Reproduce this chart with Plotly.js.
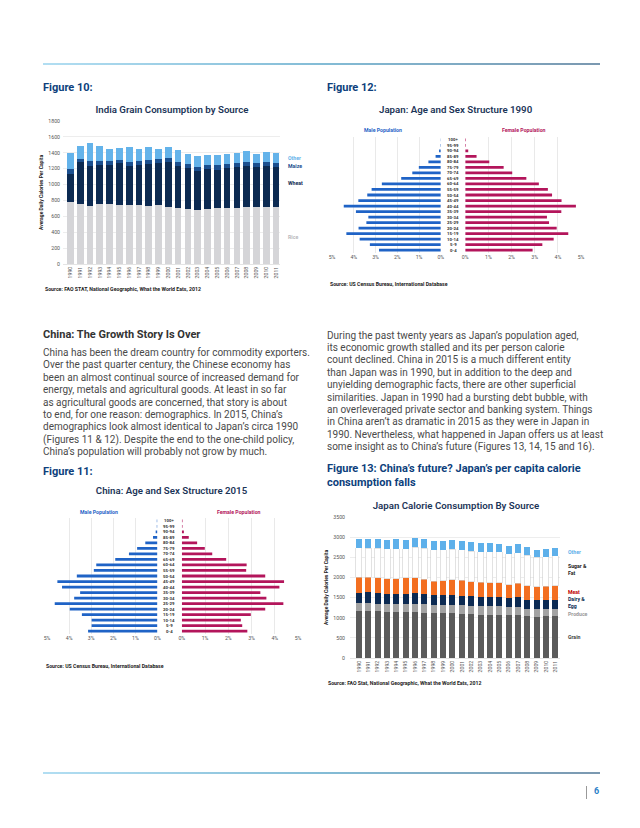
<!DOCTYPE html>
<html><head><meta charset="utf-8">
<script src="https://cdn.plot.ly/plotly-3.0.1.min.js"></script>
<style>
body{margin:0;background:#fff;width:640px;height:828px;position:relative;overflow:hidden;font-family:Roboto,"Noto Sans",sans-serif;}
.abs{position:absolute;}
.fig{font-weight:700;font-size:11px;line-height:14px;color:#0d3f7c;white-space:nowrap;}
.para{font-size:10px;line-height:12.4px;color:#4a4a4a;white-space:nowrap;}
.head{font-weight:700;font-size:11px;line-height:13px;color:#333;white-space:nowrap;}
.src{font-weight:700;font-size:5.2px;color:#222;white-space:nowrap;}
.rule{height:2px;background:linear-gradient(to right,#b2def2,#83bcd6 50%,#7b98b0);}
</style></head><body>
<div class="abs rule" style="left:43px;top:63px;width:557px;"></div>
<div class="abs rule" style="left:43px;top:772px;width:557px;"></div>
<div class="abs" style="left:586px;top:786px;width:1px;height:13px;background:#999;"></div>
<div class="abs" style="left:594px;top:786px;font-size:9px;font-weight:700;color:#2a7fc8;">6</div>

<div class="abs fig" style="left:43px;top:81px;">Figure 10:</div>
<div class="abs fig" style="left:327px;top:81px;">Figure 12:</div>
<div class="abs fig" style="left:43px;top:465px;">Figure 11:</div>
<div class="abs fig" style="left:327px;top:462px;line-height:14px;">Figure 13: China’s future? Japan’s per capita calorie<br>consumption falls</div>

<div class="abs head" style="left:43px;top:328px;">China: The Growth Story Is Over</div>
<div class="abs para" style="left:43px;top:347px;">China has been the dream country for commodity exporters.<br>Over the past quarter century, the Chinese economy has<br>been an almost continual source of increased demand for<br>energy, metals and agricultural goods. At least in so far<br>as agricultural goods are concerned, that story is about<br>to end, for one reason: demographics. In 2015, China’s<br>demographics look almost identical to Japan’s circa 1990<br>(Figures 11 &amp; 12). Despite the end to the one-child policy,<br>China’s population will probably not grow by much.</div>
<div class="abs para" style="left:327px;top:329.5px;">During the past twenty years as Japan’s population aged,<br>its economic growth stalled and its per person calorie<br>count declined. China in 2015 is a much different entity<br>than Japan was in 1990, but in addition to the deep and<br>unyielding demographic facts, there are other superficial<br>similarities. Japan in 1990 had a bursting debt bubble, with<br>an overleveraged private sector and banking system. Things<br>in China aren’t as dramatic in 2015 as they were in Japan in<br>1990. Nevertheless, what happened in Japan offers us at least<br>some insight as to China’s future (Figures 13, 14, 15 and 16).</div>

<div class="abs src" style="left:45px;top:286px;">Source: FAO STAT, National Geographic, What the World Eats, 2012</div>
<div class="abs src" style="left:330px;top:281px;">Source: US Census Bureau, International Database</div>
<div class="abs src" style="left:46px;top:663px;">Source: US Census Bureau, International Database</div>
<div class="abs src" style="left:328px;top:680px;">Source: FAO Stat, National Geographic, What the World Eats, 2012</div>

<div id="c1" class="abs" style="left:30px;top:98px;width:290px;height:200px;"></div>
<div id="c2" class="abs" style="left:320px;top:95px;width:300px;height:200px;"></div>
<div id="c3" class="abs" style="left:30px;top:475px;width:290px;height:200px;"></div>
<div id="c4" class="abs" style="left:320px;top:495px;width:300px;height:200px;"></div>

<script>
// ---------- data ----------
const years = ['1990','1991','1992','1993','1994','1995','1996','1997','1998','1999','2000','2001','2002','2003','2004','2005','2006','2007','2008','2009','2010','2011'];
// India grain consumption (kcal/capita/day), stacked segments
const indiaRice  = [776,759,725,755,755,746,738,738,734,738,721,700,688,679,696,709,700,704,717,713,717,713];
const indiaWheat = [356,520,512,495,495,524,499,512,528,532,558,529,520,495,499,478,504,512,520,507,520,507];
const indiaMaize = [63,46,63,50,41,34,46,50,46,47,54,54,50,50,46,54,50,59,50,46,50,50];
const indiaOther = [200,163,222,180,160,155,189,147,160,134,139,147,126,139,126,126,126,125,139,114,126,125];
// Population pyramids (% of total), ordered from 0-4 upward
const ageGroups = ['0-4','5-9','10-14','15-19','20-24','25-29','30-34','35-39','40-44','45-49','50-54','55-59','60-64','65-69','70-74','75-79','80-84','85-89','90-94','95-99','100+'];
const japanMale1990   = [2.84,3.26,3.73,4.34,3.78,3.42,3.33,3.90,4.46,3.79,3.38,3.18,2.71,1.82,1.31,1.01,0.57,0.24,0.08,0.02,0.01];
const japanFemale1990 = [2.91,3.33,3.82,4.45,3.95,3.62,3.53,4.15,4.78,4.16,3.75,3.57,3.18,2.64,2.03,1.66,1.04,0.49,0.13,0.03,0.03];
const chinaMale2015   = [3.14,2.98,2.98,3.42,3.97,4.65,3.77,3.50,4.32,4.53,3.65,2.88,2.77,1.91,1.29,0.92,0.55,0.20,0.08,0.03,0.03];
const chinaFemale2015 = [2.82,2.60,2.54,2.97,3.59,4.37,3.64,3.38,4.20,4.40,3.59,2.77,2.79,1.91,1.31,0.99,0.66,0.30,0.09,0.03,0.03];
const pctTicks = [0,1,2,3,4,5];
const pctLabels = ['0%','1%','2%','3%','4%','5%'];
// Japan calorie consumption by source, stacked segments
const jpGrain   = [1159,1159,1159,1142,1134,1134,1151,1126,1109,1109,1118,1101,1084,1076,1076,1076,1060,1076,1035,1026,1043,1043];
const jpProduce = [207,207,190,199,207,207,198,207,199,199,198,207,207,207,207,207,207,199,182,183,174,174];
const jpDairy   = [248,265,265,257,257,257,257,256,257,257,249,240,240,240,232,232,223,240,232,223,232,232];
const jpMeat    = [389,372,373,372,372,389,381,365,339,356,372,381,365,356,348,356,331,339,347,331,331,347];
const jpSugar   = [729,721,737,737,745,720,761,770,786,769,762,753,753,762,769,770,762,754,754,737,737,737];
const jpOther   = [232,231,240,232,232,232,232,231,224,224,223,232,224,223,224,198,207,215,207,190,190,191];

const FONT = 'Roboto, "Noto Sans", sans-serif';
const cfg = {staticPlot:true, displayModeBar:false};
const tickF = {family:FONT, size:5.2, color:'#555'};
const titleF = {family:FONT, size:9.7, color:'#1c3558', weight:600};

// ---------- Chart 1: India ----------
(function(){
  const mk = (name, y, color) => ({type:'bar', name, x:years, y, marker:{color}, hoverinfo:'none'});
  const data = [
    mk('Rice', indiaRice, '#d5d5d8'),
    mk('Wheat', indiaWheat, '#0c2a52'),
    mk('Maize', indiaMaize, '#1b4f8f'),
    mk('Other', indiaOther, '#64b3ea')
  ];
  const lab = (t, y, c) => ({xref:'paper', yref:'y', x:1.026, y, text:t, showarrow:false, xanchor:'left', font:{family:FONT, size:5.2, color:c, weight:700}});
  Plotly.newPlot('c1', data, {
    width:290, height:200, margin:{l:33, r:40, t:23.3, b:33.7},
    paper_bgcolor:'rgba(0,0,0,0)', plot_bgcolor:'rgba(0,0,0,0)',
    barmode:'stack', bargap:0.32, showlegend:false,
    title:{text:'India Grain Consumption by Source', font:titleF, x:(172-30)/290, xref:'container', xanchor:'center', yref:'container', y:0.94, yanchor:'middle'},
    xaxis:{type:'category', range:[-0.76,21.4], tickangle:-90, tickfont:tickF, showgrid:false, showline:true, linecolor:'#d9d9d9', linewidth:0.7, ticks:''},
    yaxis:{range:[0,1800], dtick:200, tickfont:tickF, gridcolor:'#e6e6e6', gridwidth:0.7, zeroline:false, ticklabelstandoff:2,
      title:{text:'Average Daily Calories Per Capita', font:{family:FONT, size:5, color:'#222', weight:700}, standoff:4}},
    annotations:[lab('Other',1333,'#64b3ea'), lab('Maize',1237,'#1b4f8f'), lab('Wheat',1015,'#0c2a52'), lab('Rice',344,'#b8b8bc')]
  }, cfg);
})();

// ---------- Pyramids ----------
function pyramid(id, w, h, margin, leftDom, rightDom, midX, maleVals, femaleVals, title, titleX, titleY, maleLabX, femLabX, labY){
  const data = [
    {type:'bar', orientation:'h', x:maleVals, y:ageGroups, xaxis:'x', yaxis:'y', marker:{color:'#1f63c6'}, hoverinfo:'none'},
    {type:'bar', orientation:'h', x:femaleVals, y:ageGroups, xaxis:'x2', yaxis:'y', marker:{color:'#b3155b'}, hoverinfo:'none'}
  ];
  const ann = ageGroups.map(a => ({xref:'paper', yref:'y', x:midX, y:a, text:a, showarrow:false, xanchor:'center', font:{family:FONT, size:4.3, color:'#333', weight:700}}));
  ann.push({xref:'paper', yref:'paper', x:maleLabX, y:labY, text:'Male Population', showarrow:false, xanchor:'center', yanchor:'middle', font:{family:FONT, size:5.2, color:'#1f63c6', weight:700}});
  ann.push({xref:'paper', yref:'paper', x:femLabX, y:labY, text:'Female Population', showarrow:false, xanchor:'center', yanchor:'middle', font:{family:FONT, size:5.2, color:'#b3155b', weight:700}});
  const ax = {tickvals:pctTicks, ticktext:pctLabels, tickfont:tickF, showgrid:true, gridcolor:'#e3e3e3', gridwidth:0.8, zeroline:false, showline:false, ticks:''};
  Plotly.newPlot(id, data, {
    width:w, height:h, margin,
    paper_bgcolor:'rgba(0,0,0,0)', plot_bgcolor:'rgba(0,0,0,0)',
    showlegend:false, bargap:0.5,
    title:{text:title, font:titleF, x:titleX, xref:'container', xanchor:'center', yref:'container', y:titleY, yanchor:'middle'},
    xaxis:Object.assign({}, ax, {domain:leftDom, range:[5,0], anchor:'y'}),
    xaxis2:Object.assign({}, ax, {domain:rightDom, range:[0,5], anchor:'y'}),
    yaxis:{type:'category', range:[-0.5,20.5], showticklabels:false, showgrid:false, zeroline:false, ticks:''},
    annotations:ann
  }, cfg);
}
// Japan 1990: plot x 331.7..581, y 137.2..253.5 in page
pyramid('c2', 300, 200, {l:11.7, r:39, t:42.2, b:41.5}, [0,0.437], [0.535,1], 0.487,
  japanMale1990, japanFemale1990, 'Japan: Age and Sex Structure 1990', 0.452, 0.925,
  (383-331.7)/249.3, (523.5-331.7)/249.3, 1+(137.2-130.3)/116.3);
// China 2015: plot x 47..297.7, y 518.2..634.5
pyramid('c3', 290, 200, {l:17, r:22.3, t:43.2, b:40.5}, [0,0.44], [0.537,1], 0.487,
  chinaMale2015, chinaFemale2015, 'China: Age and Sex Structure 2015', (171.5-30)/290, 0.92,
  (99-47)/250.7, (239-47)/250.7, 1+(518.2-512.3)/116.3);

// ---------- Chart 4: Japan calories ----------
(function(){
  const mk = (name, y, color, line) => ({type:'bar', name, x:years, y, marker:{color, line:line||{width:0}}, hoverinfo:'none'});
  const data = [
    mk('Grain', jpGrain, '#5a5a5a'),
    mk('Produce', jpProduce, '#a2a2a2'),
    mk('Dairy & Egg', jpDairy, '#0c2a52'),
    mk('Meat', jpMeat, '#f36f21'),
    mk('Sugar & Fat', jpSugar, '#ffffff', {color:'#cfcfcf', width:0.6}),
    mk('Other', jpOther, '#5eb0ea')
  ];
  const lab = (t, y, c) => ({xref:'paper', yref:'y', x:1.027, y, text:t, showarrow:false, xanchor:'left', align:'left', font:{family:FONT, size:5.2, color:c, weight:700}});
  Plotly.newPlot('c4', data, {
    width:300, height:200, margin:{l:30, r:60, t:22.3, b:36.7},
    paper_bgcolor:'rgba(0,0,0,0)', plot_bgcolor:'rgba(0,0,0,0)',
    barmode:'stack', bargap:0.36, showlegend:false,
    title:{text:'Japan Calorie Consumption By Source', font:titleF, x:(456-320)/300, xref:'container', xanchor:'center', yref:'container', y:0.9465, yanchor:'middle'},
    xaxis:{type:'category', range:[-0.96,21.5], tickangle:-90, tickfont:tickF, showgrid:false, showline:true, linecolor:'#d9d9d9', linewidth:0.7, ticks:''},
    yaxis:{range:[0,3500], dtick:500, tickfont:tickF, gridcolor:'#e6e6e6', gridwidth:0.7, zeroline:false, ticklabelstandoff:4,
      title:{text:'Average Daily Calories Per Capita', font:{family:FONT, size:5, color:'#222', weight:700}, standoff:4}},
    annotations:[lab('Other',2632,'#5eb0ea'), lab('Sugar &amp;<br>Fat',2202,'#222'), lab('Meat',1631,'#c00000'),
      lab('Dairy &amp;<br>Egg',1382,'#0c2a52'), lab('Produce',1101,'#999'), lab('Grain',522,'#444')]
  }, cfg);
})();
</script>
</body></html>
